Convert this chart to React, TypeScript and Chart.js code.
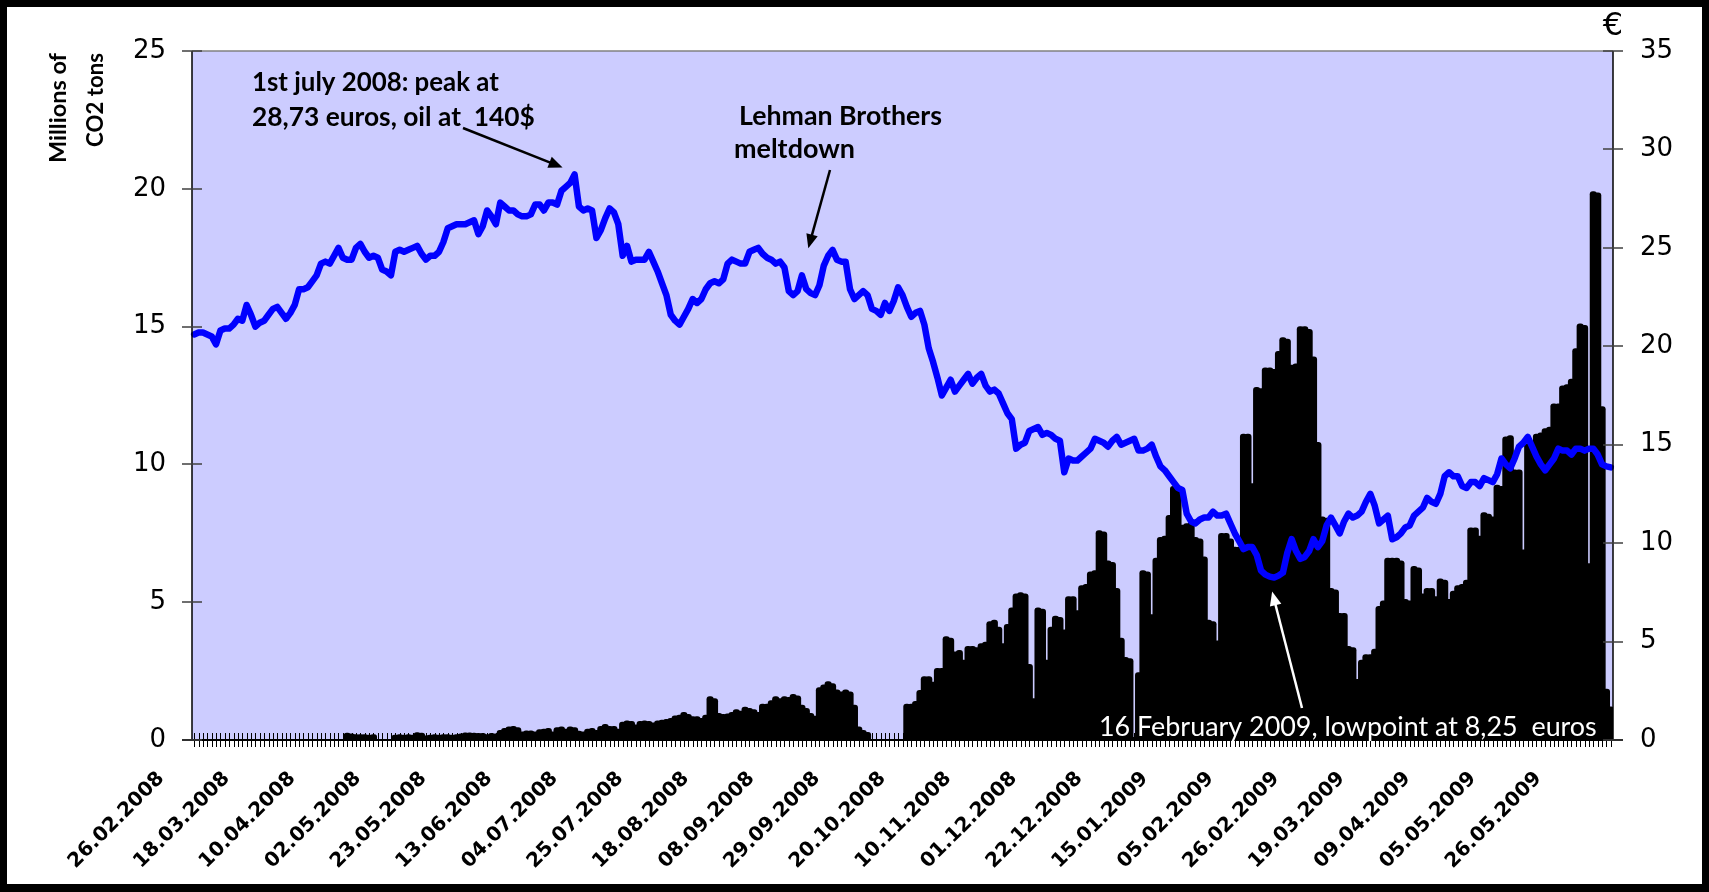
import { useEffect, useRef } from 'react';
import { Chart, registerables } from 'chart.js';

Chart.register(...registerables);

// Tick labels, one every 15 trading days, starting at the first category
const tickLabels = [
  '26.02.2008', '18.03.2008', '10.04.2008', '02.05.2008', '23.05.2008', '13.06.2008',
  '04.07.2008', '25.07.2008', '18.08.2008', '08.09.2008', '29.09.2008', '20.10.2008',
  '10.11.2008', '01.12.2008', '22.12.2008', '15.01.2009', '05.02.2009', '26.02.2009',
  '19.03.2009', '09.04.2009', '05.05.2009', '26.05.2009',
];

// EUA price, € (right axis)
const priceEUR = [
  20.6, 20.7, 20.7, 20.6, 20.5, 20.1, 20.8, 20.9, 20.9, 21.1,
  21.4, 21.3, 22.1, 21.6, 21.0, 21.2, 21.3, 21.6, 21.9, 22.0,
  21.7, 21.4, 21.7, 22.1, 22.9, 22.9, 23.0, 23.3, 23.6, 24.2,
  24.3, 24.2, 24.6, 25.0, 24.5, 24.4, 24.4, 25.0, 25.2, 24.8,
  24.5, 24.6, 24.5, 23.9, 23.8, 23.6, 24.8, 24.9, 24.8, 24.9,
  25.0, 25.1, 24.7, 24.4, 24.6,
  24.6, 24.8, 25.3, 26.0, 26.1, 26.2, 26.2, 26.2, 26.3, 26.4,
  25.7, 26.1, 26.9, 26.6, 26.2, 27.3, 27.1, 26.9, 26.9, 26.7,
  26.6, 26.6, 26.7, 27.2, 27.2, 26.9, 27.3, 27.3, 27.2, 27.9,
  28.1, 28.3, 28.73, 27.1, 26.9, 27.0, 26.9, 25.5, 25.9, 26.5,
  27.0, 26.8, 26.2, 24.6, 25.1, 24.3, 24.4, 24.4, 24.4, 24.8,
  24.3, 23.8, 23.2, 22.6, 21.6,
  21.3, 21.1, 21.5, 21.9, 22.4, 22.2, 22.4, 22.9, 23.2, 23.3,
  23.2, 23.4, 24.2, 24.4, 24.3, 24.2, 24.2, 24.8, 24.9, 25.0,
  24.7, 24.5, 24.4, 24.2, 24.3, 24.0, 22.8, 22.6, 22.8, 23.6,
  22.9, 22.7, 22.6, 23.1, 24.1, 24.6, 24.9, 24.4, 24.3, 24.3,
  22.9, 22.4, 22.6, 22.8, 22.6, 21.9, 21.8, 21.6, 22.2, 21.8,
  22.3, 23.0, 22.6, 22.0, 21.5,
  21.7, 21.8, 21.1, 19.9, 19.2, 18.4, 17.5, 17.9, 18.3, 17.7,
  18.0, 18.3, 18.6, 18.1, 18.4, 18.6, 18.0, 17.7, 17.8, 17.6,
  17.1, 16.6, 16.3, 14.8, 15.0, 15.1, 15.7, 15.8, 15.9, 15.5,
  15.6, 15.5, 15.3, 15.2, 13.6, 14.3, 14.2, 14.2, 14.4, 14.6,
  14.8, 15.3, 15.2, 15.1, 14.9, 15.2, 15.4, 15.0, 15.1, 15.2,
  15.3, 14.7, 14.7, 14.8, 15.0,
  14.4, 13.9, 13.7, 13.4, 13.1, 12.8, 12.7, 11.5, 11.1, 11.0,
  11.2, 11.3, 11.3, 11.6, 11.4, 11.4, 11.5, 11.0, 10.5, 10.1,
  9.7, 9.8, 9.8, 9.4, 8.6, 8.4, 8.3, 8.25, 8.35, 8.5,
  9.5, 10.2, 9.6, 9.2, 9.3, 9.6, 10.2, 9.8, 10.1, 10.9,
  11.3, 10.9, 10.5, 11.1, 11.5, 11.3, 11.4, 11.6, 12.1, 12.5,
  11.9, 11.0, 11.2, 11.4, 10.2,
  10.3, 10.5, 10.8, 10.9, 11.4, 11.6, 11.8, 12.3, 12.1, 12.0,
  12.5, 13.4, 13.6, 13.4, 13.4, 12.9, 12.8, 13.1, 13.1, 12.9,
  13.3, 13.2, 13.1, 13.5, 14.3, 14.0, 13.8, 14.3, 14.9, 15.1,
  15.4, 14.9, 14.4, 14.0, 13.7, 14.0, 14.3, 14.8, 14.7, 14.7,
  14.5, 14.8, 14.8, 14.7, 14.8, 14.8, 14.5, 14.0, 13.9, 13.85,
];

// Traded volume, millions of CO2 tons (left axis)
const volumeMt = [
  0, 0, 0, 0, 0, 0, 0, 0, 0, 0,
  0, 0, 0, 0, 0, 0, 0, 0, 0, 0,
  0, 0, 0, 0, 0, 0, 0, 0, 0, 0,
  0, 0, 0, 0, 0,
  0.25, 0.22, 0.2, 0.2, 0.2, 0.18, 0.2, 0, 0, 0,
  0, 0.18, 0.2, 0.18, 0.2, 0.18, 0.27, 0.25, 0.15, 0.18,
  0.2, 0.18, 0.2, 0.2, 0.18, 0.2, 0.22, 0.26, 0.26, 0.25,
  0.24, 0.24, 0.2, 0.24, 0.22, 0.35, 0.42, 0.48, 0.5, 0.45,
  0.3, 0.33, 0.33, 0.3, 0.38, 0.4, 0.42, 0.3, 0.45, 0.48,
  0.4, 0.48, 0.45, 0.32, 0.3, 0.4, 0.42, 0.35, 0.5, 0.57,
  0.5, 0.5, 0.4, 0.65, 0.7, 0.68, 0.55, 0.68, 0.7, 0.68,
  0.62, 0.7, 0.72, 0.75, 0.79, 0.88, 0.9, 1.0, 0.93, 0.85,
  0.85, 0.79, 0.9, 1.58, 1.5, 0.97, 0.93, 0.95, 1.0, 1.1,
  1.05, 1.19, 1.15, 1.1, 1.0, 1.3, 1.3, 1.43, 1.58, 1.5,
  1.58, 1.55, 1.66, 1.6, 1.27, 1.15, 0.97, 0.87, 1.9, 2.0,
  2.12, 2.05, 1.82, 1.75, 1.82, 1.75, 1.27, 0.48, 0.35, 0.28,
  0, 0, 0, 0, 0, 0, 0, 0,
  1.3, 1.3, 1.4, 1.8, 2.3, 2.3, 2.1, 2.6, 2.6, 3.75,
  3.7, 3.2, 3.25, 2.9, 3.4, 3.4, 3.35, 3.5, 3.55, 4.3,
  4.35, 4.1, 3.5, 4.2, 4.8, 5.3, 5.35, 5.3, 2.75, 1.5,
  4.8, 4.75, 2.9, 4.1, 4.5, 4.45, 4.0, 5.2, 5.2, 4.7,
  5.6, 5.65, 6.1, 6.15, 7.6, 7.55, 6.5, 6.45, 5.5, 3.7,
  3.0, 2.95, 0.1, 2.45, 6.15, 6.1, 4.55, 6.6, 7.35, 7.4,
  8.15, 9.2, 9.15, 7.8, 7.85, 7.9, 7.35, 7.3, 6.65, 4.35,
  4.3, 3.6, 7.5, 7.5, 7.3, 7.0, 7.0, 11.1, 11.1, 9.3,
  12.8, 12.75, 13.5, 13.5, 13.45, 14.1, 14.6, 14.55, 13.6, 13.65,
  15.0, 15.0, 14.9, 13.9, 10.8, 8.1, 8.05, 5.5, 5.45, 4.6,
  4.6, 3.4, 3.35, 2.2, 2.9, 3.1, 3.1, 3.3, 4.85, 5.05,
  6.6, 6.6, 6.6, 6.5, 5.1, 5.05, 6.3, 6.25, 5.3, 5.5,
  5.5, 5.2, 5.85, 5.8, 5.1, 5.4, 5.6, 5.65, 5.8, 7.7,
  7.7, 7.4, 8.25, 8.2, 8.1, 9.25, 9.2, 11.0, 11.05, 9.8,
  9.8, 6.9, 10.75, 10.7, 11.1, 11.15, 11.3, 11.35, 12.2, 12.2,
  12.85, 12.9, 13.1, 14.2, 15.1, 15.05, 6.4, 19.9, 19.85, 12.1,
  1.85, 1.2,
];

const leftTicks = [0, 5, 10, 15, 20, 25];
const rightTicks = [0, 5, 10, 15, 20, 25, 30, 35];

// Annotated points (category index)
const peakIndex = 87;
const lehmanIndex = 140;
const lowIndex = 247;

const categories = priceEUR.map((_, i) => (i % 15 === 0 ? tickLabels[i / 15] ?? '' : ''));

function fitText(ctx: CanvasRenderingContext2D, text: string, x: number, y: number, w: number,
  weight: string, family: string, color: string, align: CanvasTextAlign = 'left') {
  ctx.font = `${weight} 100px ${family}`;
  const m = ctx.measureText(text).width;
  const size = (100 * w) / m;
  ctx.font = `${weight} ${size}px ${family}`;
  ctx.fillStyle = color;
  ctx.textAlign = align;
  ctx.textBaseline = 'middle';
  ctx.fillText(text, x, y);
}

function arrow(ctx: CanvasRenderingContext2D, x1: number, y1: number, x2: number, y2: number,
  color: string, lw: number, head: number) {
  const ang = Math.atan2(y2 - y1, x2 - x1);
  const c = Math.cos(ang), s = Math.sin(ang);
  ctx.strokeStyle = color;
  ctx.lineWidth = lw;
  ctx.lineCap = 'butt';
  ctx.beginPath();
  ctx.moveTo(x1, y1);
  ctx.lineTo(x2 - head * 0.8 * c, y2 - head * 0.8 * s);
  ctx.stroke();
  ctx.fillStyle = color;
  ctx.beginPath();
  ctx.moveTo(x2, y2);
  ctx.lineTo(x2 - head * c + head * 0.42 * s, y2 - head * s - head * 0.42 * c);
  ctx.lineTo(x2 - head * c - head * 0.42 * s, y2 - head * s + head * 0.42 * c);
  ctx.closePath();
  ctx.fill();
}

const decor = {
  id: 'decor',
  beforeDraw(chart: any) {
    const { ctx, width, height, chartArea: a } = chart;
    ctx.save();
    ctx.fillStyle = '#000000';
    ctx.fillRect(0, 0, width, height);
    ctx.fillStyle = '#ffffff';
    ctx.fillRect(7, 7, width - 14, height - 15);
    ctx.fillStyle = '#CCCCFF';
    ctx.fillRect(a.left, a.top, a.right - a.left, a.bottom - a.top);
    ctx.restore();
  },
  beforeDatasetsDraw(chart: any) {
    const { ctx, chartArea: a } = chart;
    const xs = chart.scales.x;
    ctx.save();
    ctx.strokeStyle = '#000000';
    ctx.lineWidth = 1;
    ctx.beginPath();
    for (let i = 0; i < categories.length; i++) {
      const px = Math.round(xs.getPixelForValue(i)) + 0.5;
      ctx.moveTo(px, a.bottom - 7);
      ctx.lineTo(px, a.bottom + 7);
    }
    ctx.stroke();
    ctx.restore();
  },
  afterDatasetsDraw(chart: any) {
    const { ctx, chartArea: a } = chart;
    const xs = chart.scales.x;
    const yl = chart.scales.y;
    const yr = chart.scales.y2;
    ctx.save();
    // plot frame
    ctx.strokeStyle = '#808080';
    ctx.lineWidth = 1.5;
    ctx.beginPath();
    ctx.moveTo(a.left, a.top);
    ctx.lineTo(a.right, a.top);
    ctx.stroke();
    ctx.strokeStyle = '#000000';
    ctx.lineWidth = 1.5;
    ctx.beginPath();
    ctx.moveTo(a.left, a.top);
    ctx.lineTo(a.left, a.bottom);
    ctx.moveTo(a.right, a.top);
    ctx.lineTo(a.right, a.bottom);
    ctx.stroke();
    ctx.lineWidth = 2;
    ctx.beginPath();
    ctx.moveTo(a.left - 10, a.bottom);
    ctx.lineTo(a.right + 10, a.bottom);
    ctx.stroke();
    // y tick marks (cross)
    ctx.strokeStyle = '#404040';
    ctx.lineWidth = 1.5;
    ctx.beginPath();
    leftTicks.forEach((v) => {
      const py = Math.round(yl.getPixelForValue(v));
      ctx.moveTo(a.left - 10, py);
      ctx.lineTo(a.left + 10, py);
    });
    rightTicks.forEach((v) => {
      const py = Math.round(yr.getPixelForValue(v));
      ctx.moveTo(a.right - 10, py);
      ctx.lineTo(a.right + 10, py);
    });
    ctx.stroke();

    // axis titles
    ctx.save();
    ctx.translate(58, 53);
    ctx.rotate(-Math.PI / 2);
    fitText(ctx, 'Millions of', 0, 0, 110, 'bold', 'Lato', '#000000', 'right');
    ctx.restore();
    ctx.save();
    ctx.translate(96, 53);
    ctx.rotate(-Math.PI / 2);
    fitText(ctx, 'CO2 tons', 0, 0, 94, 'bold', 'Lato', '#000000', 'right');
    ctx.restore();
    ctx.font = '32px "DejaVu Sans"';
    ctx.fillStyle = '#000000';
    ctx.textAlign = 'center';
    ctx.textBaseline = 'middle';
    ctx.fillText('€', a.right, 27);

    // annotations
    fitText(ctx, '1st july 2008: peak at', 252, 83, 247, 'bold', 'Lato', '#000000');
    fitText(ctx, '28,73 euros, oil at  140$', 252, 117, 283, 'bold', 'Lato', '#000000');
    const px = xs.getPixelForValue(peakIndex);
    const py = yr.getPixelForValue(priceEUR[peakIndex]);
    arrow(ctx, 463, 128, px - 12, py - 7, '#000000', 2.5, 14);

    fitText(ctx, 'Lehman Brothers', 739, 116, 203, 'bold', 'Lato', '#000000');
    fitText(ctx, 'meltdown', 734, 149, 121, 'bold', 'Lato', '#000000');
    const lx = xs.getPixelForValue(lehmanIndex);
    const ly = yr.getPixelForValue(priceEUR[lehmanIndex]);
    arrow(ctx, 830, 170, lx + 2, ly - 41, '#000000', 2.5, 14);

    fitText(ctx, '16 February 2009, lowpoint at 8,25  euros', 1099, 727, 498, 'normal', 'Lato', '#ffffff');
    const wx = xs.getPixelForValue(lowIndex);
    const wy = yr.getPixelForValue(priceEUR[lowIndex]);
    arrow(ctx, 1302, 708, wx - 2, wy + 14, '#ffffff', 2.5, 14);
    ctx.restore();
  },
};

export default function App() {
  const ref = useRef<HTMLCanvasElement>(null);
  useEffect(() => {
    const chart = new Chart(ref.current as HTMLCanvasElement, {
      type: 'bar',
      data: {
        labels: categories,
        datasets: [
          {
            type: 'line',
            label: 'Price (€)',
            data: priceEUR,
            yAxisID: 'y2',
            borderColor: '#0000FF',
            borderWidth: 6.5,
            pointRadius: 0,
            tension: 0,
            borderJoinStyle: 'round',
            borderCapStyle: 'round',
            order: 0,
          } as any,
          {
            type: 'bar',
            label: 'Volume (Mt)',
            data: volumeMt,
            yAxisID: 'y',
            backgroundColor: '#000000',
            borderWidth: 0,
            barThickness: 6.5,
            borderRadius: { topLeft: 3, topRight: 3, bottomLeft: 0, bottomRight: 0 },
            order: 1,
          } as any,
        ],
      },
      options: {
        animation: false,
        responsive: false,
        devicePixelRatio: 1,
        layout: { padding: { top: 51, left: 0, right: 0, bottom: 0 } },
        plugins: { legend: { display: false }, tooltip: { enabled: false } },
        scales: {
          x: {
            type: 'category',
            offset: true,
            grid: { display: false, drawTicks: false },
            border: { display: false },
            ticks: {
              autoSkip: false,
              maxRotation: 45,
              minRotation: 45,
              labelOffset: -33,
              padding: 27,
              color: '#000000',
              font: { family: '"DejaVu Sans"', size: 20, weight: 'bold' },
            },
            afterFit: (s: any) => { s.height = 152; },
          },
          y: {
            position: 'left',
            min: 0,
            max: 25,
            grid: { display: false, drawTicks: false },
            border: { display: false },
            ticks: {
              stepSize: 5,
              padding: 26,
              color: '#000000',
              font: { family: '"DejaVu Sans"', size: 26 },
            },
            afterFit: (s: any) => { s.width = 192; },
          },
          y2: {
            position: 'right',
            min: 0,
            max: 35,
            grid: { display: false, drawTicks: false },
            border: { display: false },
            ticks: {
              stepSize: 5,
              padding: 27,
              color: '#000000',
              font: { family: '"DejaVu Sans"', size: 26 },
            },
            afterFit: (s: any) => { s.width = 96; },
          },
        },
      } as any,
      plugins: [decor],
    });
    return () => chart.destroy();
  }, []);
  return (
    <div style={{ position: 'absolute', left: 0, top: 0, width: 1709, height: 892 }}>
      <canvas ref={ref} width={1709} height={892} style={{ display: 'block', width: 1709, height: 892 }} />
    </div>
  );
}
